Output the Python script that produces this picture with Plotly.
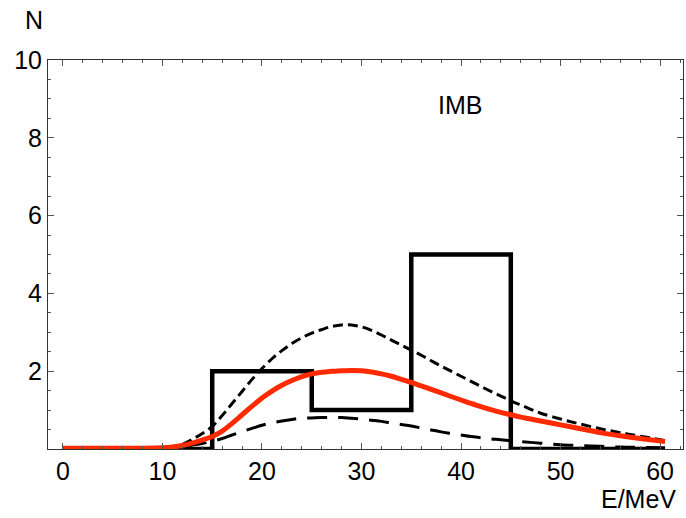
import plotly.graph_objects as go

# Histogram (IMB events)
bin_edges = [0, 15, 25, 35, 45, 60]
bin_counts = [0, 2, 1, 5, 0]

# Red (best fit) curve
red_E = [0, 4, 8, 10, 11, 12, 13, 14, 15, 16, 17, 18, 19, 20, 21, 22, 23, 24, 25, 26, 27, 28, 29, 30, 31, 32, 33, 34, 35, 36, 37, 38, 39, 40, 41, 42, 43, 44, 45, 46, 47, 48, 50, 52, 54, 56, 58, 60.5]
red_N = [0.02, 0.02, 0.02, 0.03, 0.05, 0.09, 0.15, 0.23, 0.32, 0.46, 0.66, 0.88, 1.1, 1.31, 1.49, 1.64, 1.76, 1.86, 1.93, 1.97, 2.0, 2.01, 2.02, 2.01, 1.98, 1.93, 1.87, 1.79, 1.71, 1.62, 1.53, 1.44, 1.35, 1.26, 1.17, 1.09, 1.01, 0.94, 0.88, 0.82, 0.77, 0.72, 0.62, 0.52, 0.42, 0.34, 0.27, 0.19]

# Short-dashed curve
sd_E = [0, 4, 8, 10, 11, 12, 13, 14, 15, 16, 17, 18, 19, 20, 21, 22, 23, 24, 25, 26, 27, 28, 29, 30, 31, 32, 33, 34, 35, 36, 37, 38, 39, 40, 41, 42, 43, 44, 45, 46, 47, 48, 50, 52, 54, 56, 58, 60.5]
sd_N = [0.01, 0.01, 0.01, 0.02, 0.05, 0.12, 0.25, 0.4, 0.58, 0.86, 1.17, 1.48, 1.79, 2.07, 2.32, 2.53, 2.71, 2.86, 2.98, 3.07, 3.15, 3.19, 3.19, 3.14, 3.05, 2.93, 2.8, 2.67, 2.54, 2.41, 2.27, 2.13, 2.0, 1.87, 1.74, 1.61, 1.48, 1.36, 1.24, 1.13, 1.02, 0.92, 0.77, 0.64, 0.52, 0.42, 0.33, 0.22]

# Long-dashed curve
ld_E = [0, 4, 8, 10, 11, 12, 13, 14, 15, 16, 17, 18, 19, 20, 21, 22, 23, 24, 25, 26, 27, 28, 29, 30, 31, 32, 33, 34, 35, 36, 37, 38, 39, 40, 41, 42, 43, 44, 45, 46, 48, 50, 52, 54, 56, 58, 60.5]
ld_N = [0.01, 0.01, 0.01, 0.01, 0.03, 0.06, 0.1, 0.14, 0.2, 0.27, 0.36, 0.45, 0.53, 0.61, 0.67, 0.72, 0.76, 0.79, 0.8, 0.81, 0.81, 0.81, 0.79, 0.77, 0.74, 0.71, 0.67, 0.63, 0.59, 0.54, 0.49, 0.44, 0.4, 0.36, 0.32, 0.29, 0.26, 0.24, 0.21, 0.19, 0.15, 0.11, 0.09, 0.07, 0.05, 0.04, 0.03]

hist_x = bin_edges
hist_y = bin_counts + [bin_counts[-1]]

FONT = "Liberation Sans, Arial, Helvetica, sans-serif"
FS = 25

fig = go.Figure()
fig.add_trace(go.Scatter(x=sd_E, y=sd_N, mode="lines", line=dict(color="black", width=3, dash="10px,5px", shape="spline", smoothing=1), hoverinfo="skip"))
fig.add_trace(go.Scatter(x=ld_E, y=ld_N, mode="lines", line=dict(color="black", width=3, dash="20px,11px", shape="spline", smoothing=1), hoverinfo="skip"))
fig.add_trace(go.Scatter(x=hist_x, y=hist_y, mode="lines", line=dict(color="black", width=4.5, shape="hv"), hoverinfo="skip"))
fig.add_trace(go.Scatter(x=red_E, y=red_N, mode="lines", line=dict(color="#ff2a00", width=5, shape="spline", smoothing=1), hoverinfo="skip"))

axis_common = dict(
    showgrid=False, zeroline=False, showline=True, linecolor="#333333", linewidth=1,
    mirror="allticks", ticks="inside", ticklen=6, tickcolor="#555555", tickwidth=1,
    tickfont=dict(family=FONT, size=FS, color="black"),
)

fig.update_xaxes(range=[-1.5, 62.3], tickvals=[0, 10, 20, 30, 40, 50, 60],
                 minor=dict(dtick=2, tick0=0, ticks="inside", ticklen=3, tickcolor="#555555"),
                 **axis_common)
fig.update_yaxes(range=[0, 10], tickvals=[2, 4, 6, 8, 10],
                 minor=dict(dtick=0.5, tick0=0, ticks="inside", ticklen=3, tickcolor="#555555"),
                 **axis_common)

fig.add_annotation(x=39.9, y=8.85, text="IMB", showarrow=False, xref="x", yref="y",
                   xanchor="center", yanchor="middle",
                   font=dict(family=FONT, size=FS, color="black"))
fig.add_annotation(x=0, y=1, xref="paper", yref="paper", xshift=-14, yshift=40, text="N",
                   xanchor="center", yanchor="middle",
                   showarrow=False, font=dict(family=FONT, size=FS, color="black"))
fig.add_annotation(x=1, y=0, xref="paper", yref="paper", xshift=-45, yshift=-50, text="E/MeV",
                   xanchor="center", yanchor="middle",
                   showarrow=False, font=dict(family=FONT, size=FS, color="black"))

fig.update_layout(
    width=686, height=518, showlegend=False,
    margin=dict(l=48, r=3, t=60, b=69),
    plot_bgcolor="white", paper_bgcolor="white",
)

fig.write_html("out.html")
